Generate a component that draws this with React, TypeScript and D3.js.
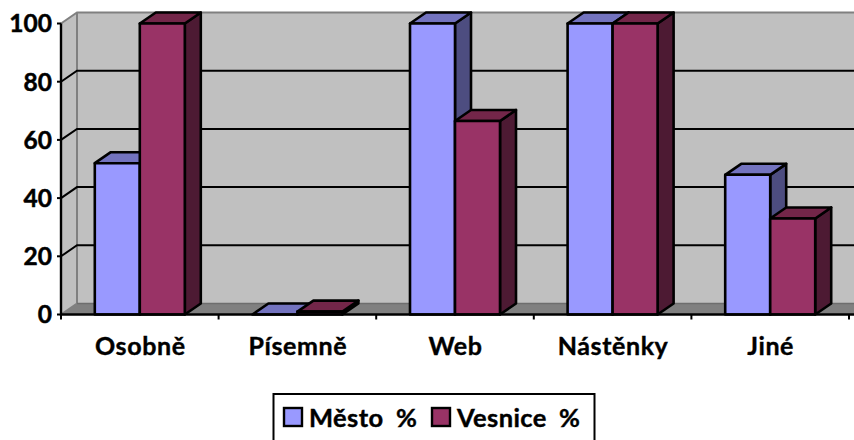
import * as d3 from 'd3'
import React from 'react'

const categories = ['Osobně', 'Písemně', 'Web', 'Nástěnky', 'Jiné']
const mesto = [52, 0, 100, 100, 48]
const vesnice = [100, 1, 66.5, 100, 33]
const yTicks = [0, 20, 40, 60, 80, 100]

const seriesNames = ['Město', 'Vesnice']
const frontColors = ['#9999ff', '#993366']
const topColors = ['#7373bf', '#732649']
const sideColors = ['#4d4d80', '#4d1a33']

const width = 854
const height = 440
const depthX = 16
const depthY = -11
const x0 = 61
const x1 = 849
const font = 'Lato, Carlito, sans-serif'

const x = d3.scaleBand<string>().domain(categories).range([x0, x1]).paddingInner(0).paddingOuter(0)
const y = d3.scaleLinear().domain([0, 100]).range([314.5, 23.5])
const line = d3.line()

const poly = (pts: [number, number][]) => line(pts) + 'Z'

const App = () => {
  const bw = x.bandwidth()
  const barW = 45
  const gap = (bw - barW * 2) / 2
  const all = [mesto, vesnice]

  return (
    <svg width={width} height={height} style={{ position: 'absolute', left: 0, top: 0, fontFamily: font }}>
      <rect width={width} height={height} fill="#fff" />
      {/* walls and floor */}
      <path d={poly([[x0 + depthX, y(100) + depthY], [width, y(100) + depthY], [width, y(0) + depthY], [x0 + depthX, y(0) + depthY]])} fill="#c0c0c0" />
      <path d={poly([[x0, y(100)], [x0 + depthX, y(100) + depthY], [x0 + depthX, y(0) + depthY], [x0, y(0)]])} fill="#c0c0c0" />
      <path d={poly([[x0, y(0)], [x0 + depthX, y(0) + depthY], [width, y(0) + depthY], [width, y(0)]])} fill="#808080" />
      <path d={line([[x0, y(100)], [x0 + depthX, y(100) + depthY], [width, y(100) + depthY]]) || ''} fill="none" stroke="#808080" strokeWidth={2} />
      <path d={line([[x0 + depthX, y(100) + depthY], [x0 + depthX, y(0) + depthY], [x0, y(0)]]) || ''} fill="none" stroke="#808080" strokeWidth={2} />
      <path d={line([[x0 + depthX, y(0) + depthY], [width, y(0) + depthY]]) || ''} fill="none" stroke="#6e6e6e" strokeWidth={1.5} />

      {/* gridlines */}
      {yTicks.filter(t => t > 0 && t < 100).map(t => (
        <path key={t} d={line([[x0, y(t)], [x0 + depthX, y(t) + depthY], [width, y(t) + depthY]]) || ''} fill="none" stroke="#000" strokeWidth={2} />
      ))}

      {/* bars */}
      {categories.map((c, i) => (
        <g key={c} stroke="#000" strokeWidth={2.6} strokeLinejoin="round">
          {all.map((vals, s) => {
            const left = (x(c) as number) + gap + s * barW
            const right = left + barW
            const top = y(vals[i])
            const base = y(0)
            return (
              <g key={s}>
                <path d={poly([[right, top], [right + depthX, top + depthY], [right + depthX, base + depthY], [right, base]])} fill={sideColors[s]} />
                <path d={poly([[left, top], [left + depthX, top + depthY], [right + depthX, top + depthY], [right, top]])} fill={topColors[s]} />
                {vals[i] > 0 && <rect x={left} y={top} width={barW} height={base - top} fill={frontColors[s]} />}
              </g>
            )
          })}
        </g>
      ))}

      {/* axes */}
      <path d={line([[x0, y(100)], [x0, y(0)], [x1 + 5, y(0)]]) || ''} fill="none" stroke="#000" strokeWidth={2.4} />
      {yTicks.map(t => (
        <g key={t}>
          <line x1={x0 - 4} x2={x0} y1={y(t)} y2={y(t)} stroke="#000" strokeWidth={2} />
          <text x={52} y={y(t)} dy="0.36em" textAnchor="end" fontSize={24.5} fontWeight={700} stroke="#000" strokeWidth={0.5}>{t}</text>
        </g>
      ))}
      {categories.map(c => (
        <text key={c} x={(x(c) as number) + bw / 2 + 0.5} y={355} textAnchor="middle" fontSize={25} letterSpacing={0.6} fontWeight={700} stroke="#000" strokeWidth={0.4}>{c}</text>
      ))}
      {[...categories.map(c => x(c) as number), x1].map((v, i) => (
        <line key={i} x1={v} x2={v} y1={y(0)} y2={y(0) + 5} stroke="#000" strokeWidth={2} />
      ))}

      {/* legend */}
      <rect x={273.5} y={394} width={321} height={50} fill="#fff" stroke="#000" strokeWidth={2} />
      {seriesNames.map((name, s) => {
        const lx = [283, 431][s]
        const pctX = [396, 559][s]
        return (
          <g key={name} fontSize={25.5} fontWeight={700} stroke="#000" strokeWidth={0.4}>
            <rect x={lx + 1} y={408} width={18} height={18} fill={frontColors[s]} stroke="#000" strokeWidth={2.4} />
            <text x={lx + 26} y={427} letterSpacing={0.4}>{name}</text>
            <text x={pctX} y={427}>%</text>
          </g>
        )
      })}
    </svg>
  )
}

export default App
